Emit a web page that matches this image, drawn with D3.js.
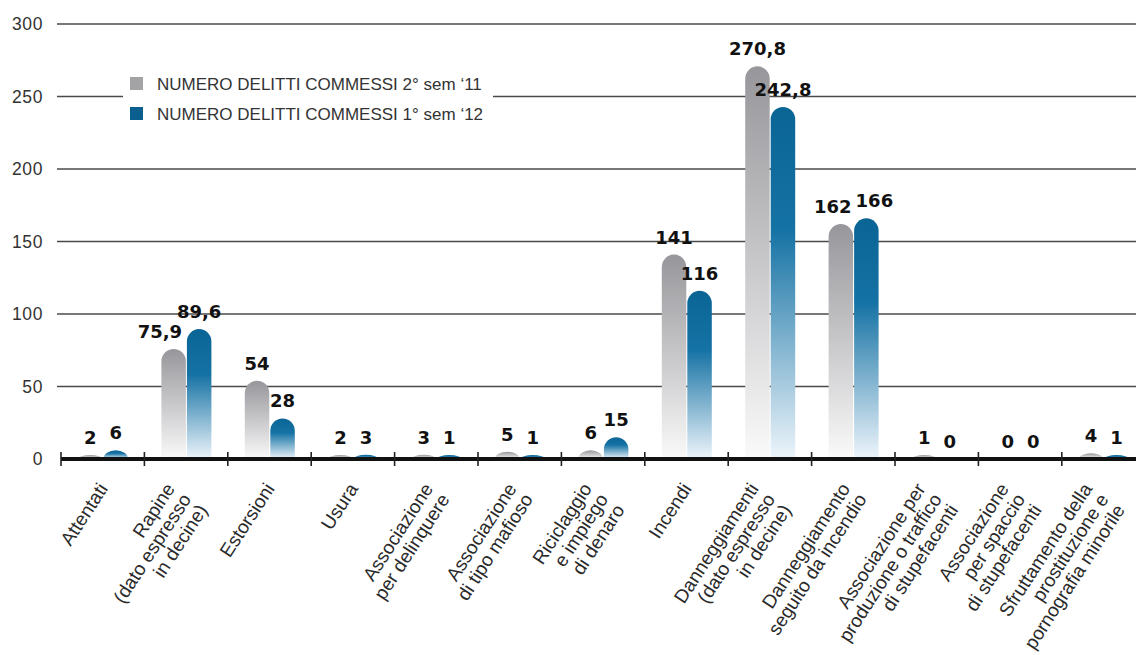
<!DOCTYPE html>
<html>
<head>
<meta charset="utf-8">
<script src="https://cdn.jsdelivr.net/npm/d3@7"></script>
<style>
  body { margin: 0; background: #fff; }
  svg { display: block; }
</style>
</head>
<body>
<div id="chart"></div>
<script>
// categories, one string per bar group ("|" = line break in the label)
const categories = [
  'Attentati',
  'Rapine|(dato espresso|in decine)',
  'Estorsioni',
  'Usura',
  'Associazione|per delinquere',
  'Associazione|di tipo mafioso',
  'Riciclaggio|e impiego|di denaro',
  'Incendi',
  'Danneggiamenti|(dato espresso|in decine)',
  'Danneggiamento|seguito da incendio',
  'Associazione per|produzione o traffico|di stupefacenti',
  'Associazione|per spaccio|di stupefacenti',
  'Sfruttamento della|prostituzione e|pornografia minorile'
];
const sem2011 = [2, 75.9, 54, 2, 3, 5, 6, 141, 270.8, 162, 1, 0, 4];
const sem2012 = [6, 89.6, 28, 3, 1, 1, 15, 116, 242.8, 166, 0, 0, 1];
const seriesNames = ['NUMERO DELITTI COMMESSI 2° sem \u201811', 'NUMERO DELITTI COMMESSI 1° sem \u201812'];
const yTicks = [0, 50, 100, 150, 200, 250, 300];

const width = 1136, height = 655;
const y0 = 459;

const svg = d3.select('#chart').append('svg')
  .attr('width', width)
  .attr('height', height);

const defs = svg.append('defs');
const grads = [
  { id: 'g-grey', stops: [[0, '#97979b'], [0.45, '#c3c3c6'], [1, '#fafafa']] },
  { id: 'g-blue', stops: [[0, '#0a6595'], [0.35, '#1572a4'], [1, '#eef5fb']] }
];
grads.forEach(g => {
  const lg = defs.append('linearGradient').attr('id', g.id)
    .attr('x1', 0).attr('y1', 0).attr('x2', 0).attr('y2', 1);
  g.stops.forEach(s => lg.append('stop').attr('offset', s[0]).attr('stop-color', s[1]));
});

const x = d3.scaleBand()
  .domain(categories.map((d, i) => i))
  .range([61, 61 + 13 * 83.4]);

const xInner = d3.scaleBand()
  .domain([0, 1])
  .range([17, 67])
  .paddingInner(0.04);

const y = d3.scaleLinear()
  .domain([0, 300])
  .range([y0, 24]);

// gridlines + y labels
svg.append('g')
  .selectAll('line')
  .data(yTicks.filter(d => d > 0))
  .join('line')
  .attr('x1', 57).attr('x2', width)
  .attr('y1', d => y(d)).attr('y2', d => y(d))
  .attr('stroke', '#4a4a4a')
  .attr('stroke-width', 1.3);

svg.append('g')
  .selectAll('text')
  .data(yTicks)
  .join('text')
  .attr('x', 43)
  .attr('y', d => y(d) + 6)
  .attr('text-anchor', 'end')
  .attr('font-family', 'Liberation Sans, Arial, sans-serif')
  .attr('font-size', 17.5)
  .attr('letter-spacing', 0.6)
  .attr('fill', '#333')
  .text(d => d);

// legend (white box cuts the 250 gridline)
const legend = svg.append('g').attr('transform', 'translate(123,68)');
legend.append('rect').attr('width', 370).attr('height', 59).attr('fill', '#fff');
const legendColors = ['#a3a3a5', '#0b5f8e'];
seriesNames.forEach((name, i) => {
  legend.append('rect')
    .attr('x', 7).attr('y', 9 + i * 30)
    .attr('width', 13).attr('height', 13)
    .attr('fill', legendColors[i]);
  legend.append('text')
    .attr('x', 34).attr('y', 22 + i * 30)
    .attr('font-family', 'Liberation Sans, Arial, sans-serif')
    .attr('font-size', 17)
    .attr('fill', '#333')
    .text(name);
});

// bars
const series = [sem2011, sem2012];
function barPath(x0, w, v) {
  if (v <= 0) return null;
  const h = Math.max(y0 - y(v), 4);
  const r = w / 2;
  if (h >= r) {
    return `M${x0},${y0}V${y0 - h + r}A${r},${r} 0 0 1 ${x0 + w},${y0 - h + r}V${y0}Z`;
  }
  return `M${x0},${y0}A${r},${h} 0 0 1 ${x0 + w},${y0}Z`;
}
function barTop(v) {
  return v > 0 ? y0 - Math.max(y0 - y(v), 4) : y0;
}

const barsG = svg.append('g');
series.forEach((vals, s) => {
  barsG.append('g')
    .selectAll('path')
    .data(vals.map((v, i) => ({ v, i })))
    .join('path')
    .attr('d', d => barPath(x(d.i) + xInner(s), xInner.bandwidth(), d.v))
    .attr('fill', `url(#${grads[s].id})`);
});

// axis line and ticks
svg.append('line')
  .attr('x1', 61).attr('x2', width)
  .attr('y1', y0).attr('y2', y0)
  .attr('stroke', '#111').attr('stroke-width', 4);

svg.append('g')
  .selectAll('line')
  .data(categories.map((d, i) => i))
  .join('line')
  .attr('x1', d => x(d)).attr('x2', d => x(d))
  .attr('y1', y0 - 7).attr('y2', y0 + 7)
  .attr('stroke', '#222').attr('stroke-width', 1.6);

// value labels
const fmt = v => Number.isInteger(v) ? String(v) : d3.format('.1f')(v).replace('.', ',');
const labelsG = svg.append('g')
  .attr('font-family', 'DejaVu Sans, sans-serif')
  .attr('font-weight', 'bold')
  .attr('font-size', 18)
  .attr('fill', '#111')
  .attr('text-anchor', 'middle');

categories.forEach((c, i) => {
  const items = series.map((vals, s) => {
    const t = labelsG.append('text').text(fmt(vals[i]));
    return {
      t,
      cx: x(i) + xInner(s) + xInner.bandwidth() / 2,
      by: barTop(vals[i]) - 11,
      w: t.node().getComputedTextLength()
    };
  });
  const [a, b] = items;
  const overlap = (a.cx + a.w / 2 + 4) - (b.cx - b.w / 2);
  const dy = Math.abs(a.by - b.by);
  if (overlap > 0 && dy < 14) {
    a.cx -= overlap / 2; b.cx += overlap / 2;
  } else if (overlap > 0 && dy < 24) {
    // nudge only the lower one aside
    if (a.by > b.by) a.cx -= overlap * 0.6; else b.cx += overlap * 0.6;
  }
  items.forEach(d => d.t.attr('x', d.cx).attr('y', d.by));
});

// category labels: rotated, lines right-aligned, block centred on the band
const fs = 19, lh = 19.5, ang = 57;
const perpX = Math.sin(ang * Math.PI / 180);
categories.forEach((c, i) => {
  const lines = c.split('|');
  const ox = x(i) + x.bandwidth() / 2 - 6 - (lines.length - 1) * lh * perpX / 2;
  const g = svg.append('g')
    .attr('transform', `translate(${ox},${y0 + 22}) rotate(${-ang})`)
    .attr('font-family', 'Liberation Sans, Arial, sans-serif')
    .attr('font-size', fs)
    .attr('fill', '#2a2a2a')
    .attr('text-anchor', 'end');
  lines.forEach((l, k) => g.append('text')
    .attr('x', 0)
    .attr('y', 14 + k * lh)
    .text(l));
});
</script>
</body>
</html>
